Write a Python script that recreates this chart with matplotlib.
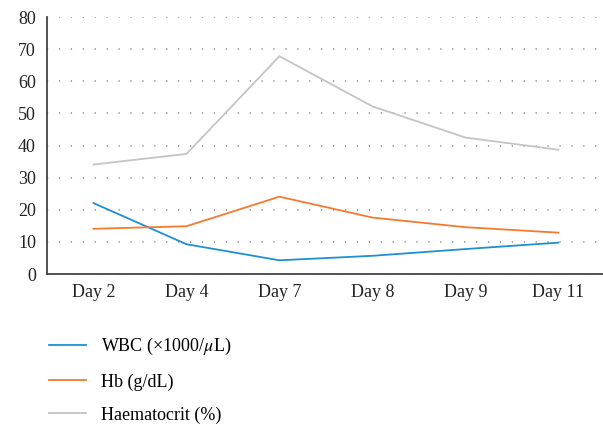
import matplotlib
matplotlib.use("Agg")
import matplotlib.pyplot as plt
import numpy as np

days = ["Day 2", "Day 4", "Day 7", "Day 8", "Day 9", "Day 11"]
wbc = [22.1, 9.3, 4.3, 5.7, 7.8, 9.8]
hb = [14.1, 14.9, 24.1, 17.6, 14.6, 12.9]
haematocrit = [34.1, 37.4, 67.8, 52.2, 42.5, 38.7]

labels = ["WBC (×1000/$\\mu$L)", "Hb (g/dL)", "Haematocrit (%)"]
colors = ["#1f8fd3", "#f47a2e", "#c4c4c4"]

plt.rcParams['font.family'] = ['Liberation Serif', 'DejaVu Serif']
plt.rcParams['mathtext.fontset'] = 'stix'

fig = plt.figure(figsize=(6.03, 4.25), dpi=100)
ax = fig.add_axes([0.078, 0.355, 0.925, 0.605])

x = np.arange(len(days)) + 0.5
for vals, lab, col in zip([wbc, hb, haematocrit], labels, colors):
    ax.plot(x, vals, color=col, lw=1.3, label=lab)

ax.set_xlim(0, len(days))
ax.set_ylim(0, 80)
ax.set_yticks(range(0, 81, 10))
ax.set_xticks(x)
ax.set_xticklabels(days)
ax.tick_params(length=0, labelsize=13, colors="#222222", pad=7)
ax.tick_params(axis='y', pad=8)

# dotted grid
ax.grid(axis='y', color="#888888", linestyle=(0, (0.8, 7)), lw=1.1)
ax.set_axisbelow(True)

for s in ["top", "right"]:
    ax.spines[s].set_visible(False)
for s in ["left", "bottom"]:
    ax.spines[s].set_color("#444444")
    ax.spines[s].set_linewidth(1.3)

fig.legend(loc="upper left", bbox_to_anchor=(0.055, 0.247), frameon=False,
           fontsize=13, handlelength=2.0, handletextpad=0.85, labelspacing=0.88)

plt.savefig("out.png", dpi=100)
